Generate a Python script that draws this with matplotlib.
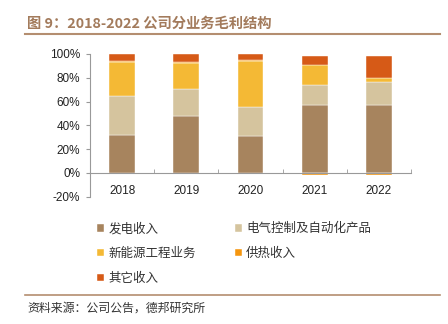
import matplotlib
matplotlib.use("Agg")
import matplotlib.pyplot as plt
import numpy as np
from matplotlib.lines import Line2D

plt.rcParams['font.family'] = ['Liberation Sans', 'Noto Sans CJK SC', 'DejaVu Sans']

years = ['2018', '2019', '2020', '2021', '2022']
series_names = ['发电收入', '电气控制及自动化产品', '新能源工程业务', '供热收入', '其它收入']
power = [32.0, 47.5, 31.3, 57.3, 57.3]
electric = [32.8, 22.9, 24.5, 16.5, 19.5]
newenergy = [28.7, 22.3, 38.6, 17.2, 3.4]
heating = [0.3, 0.3, 0.3, -1.5, -1.5]
other = [6.2, 7.0, 5.3, 7.3, 18.1]
yticks = [-20, 0, 20, 40, 60, 80, 100]

colors = ['#A7845E', '#D5C49E', '#F4B935', '#F5960E', '#D65A17']
data = [power, electric, newenergy, heating, other]

fig = plt.figure(figsize=(4.48, 3.24), dpi=100)
ax = fig.add_axes([90/448, 1-196.7/324, (411-90)/448, (196.7-54)/324])

x = np.arange(len(years))
pos_bottom = np.zeros(len(years))
neg_bottom = np.zeros(len(years))
handles = []
for vals, c, name in zip(data, colors, series_names):
    v = np.array(vals)
    bottom = np.where(v >= 0, pos_bottom, neg_bottom)
    b = ax.bar(x, v, 0.4, bottom=bottom, color=c, label=name,
               edgecolor='white', linewidth=0.3)
    handles.append(b)
    pos_bottom = pos_bottom + np.where(v >= 0, v, 0)
    neg_bottom = neg_bottom + np.where(v < 0, v, 0)

ax.set_xlim(-0.5, len(years) - 0.5)
ax.set_ylim(-20, 100)
ax.set_yticks(yticks)
ax.set_yticklabels([f'{t}%' for t in yticks])
ax.set_xticks(x)
ax.set_xticklabels(years)
ax.set_xticks(np.arange(-0.5, len(years)), minor=True)

for s in ['top', 'right']:
    ax.spines[s].set_visible(False)
ax.spines['bottom'].set_position(('data', 0))
ax.spines['bottom'].set_color('#999999')
ax.spines['left'].set_color('#999999')
ax.tick_params(axis='x', which='major', length=0, pad=9, labelsize=8.5, colors='#222222')
ax.tick_params(axis='x', which='minor', length=3, direction='in', color='#999999')
ax.tick_params(axis='y', length=3, direction='out', color='#999999', labelsize=8.5,
               labelcolor='#222222', pad=4)

order = [0, 2, 4, 1, 3]
leg = fig.legend([handles[i] for i in order], [series_names[i] for i in order],
                 ncol=2, loc='upper left', bbox_to_anchor=(86/448, 1-211/324),
                 frameon=False, handlelength=0.55, handleheight=0.55,
                 handletextpad=0.35, columnspacing=3.1, labelspacing=0.95,
                 prop={'family': ['Noto Sans CJK SC'], 'size': 9})
for t in leg.get_texts():
    t.set_color('#333333')

fig.text(27/448, 1-24/324, '图 9：2018-2022 公司分业务毛利结构', fontsize=10.3,
         fontweight='bold', color='#A37B5C', va='center', ha='left',
         family=['Noto Sans CJK SC', 'DejaVu Sans'])
fig.add_artist(Line2D([25/448, 440/448], [1-34/324, 1-34/324], color='#B48E70', lw=1.5))
fig.add_artist(Line2D([25/448, 440/448], [1-295/324, 1-295/324], color='#B48E70', lw=1.2))
fig.text(27/448, 1-308/324, '资料来源：公司公告，德邦研究所', fontsize=8.6,
         color='#333333', va='center', ha='left', family=['Noto Sans CJK SC', 'DejaVu Sans'])

fig.savefig('out.png', dpi=100)
